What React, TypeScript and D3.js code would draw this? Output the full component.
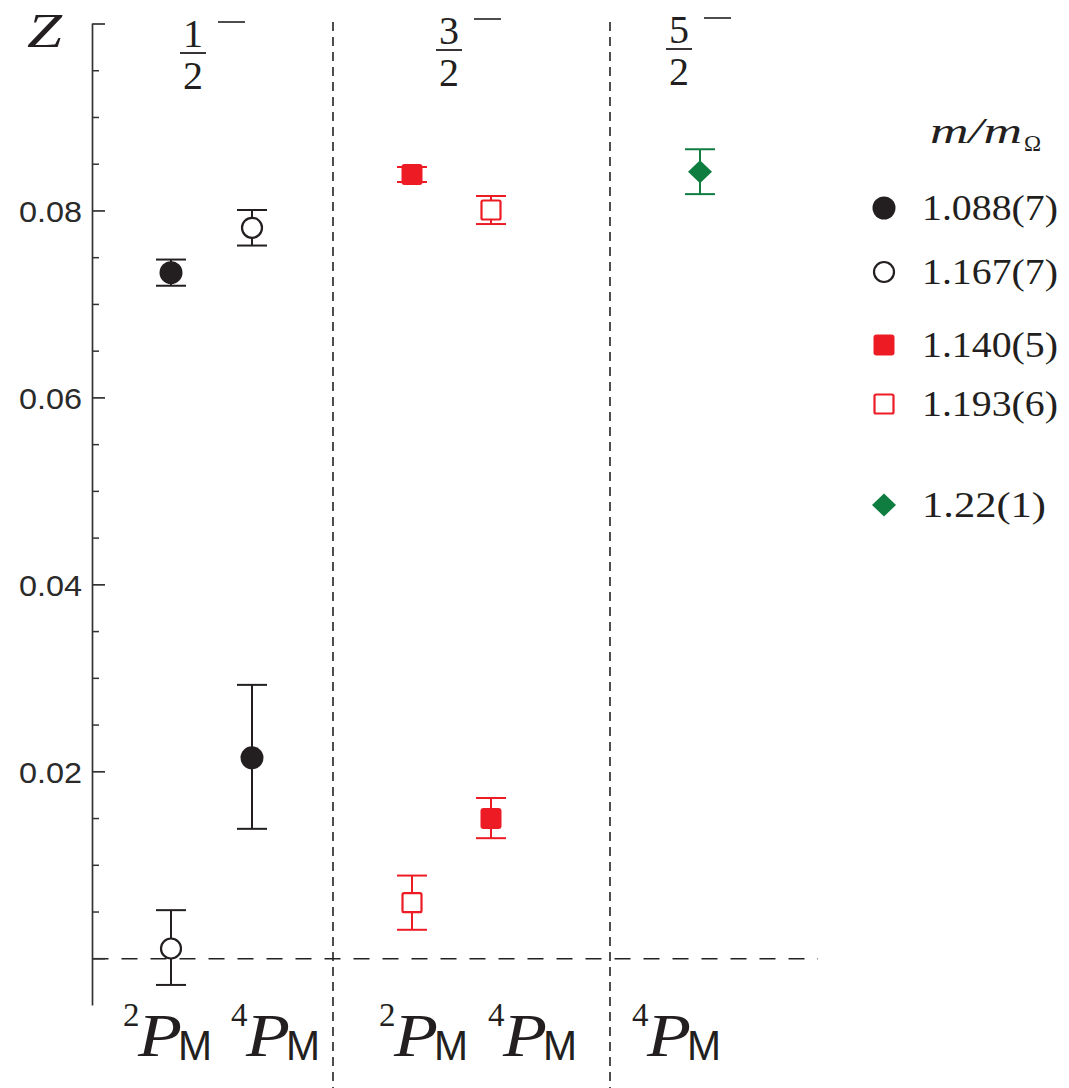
import React from 'react';
import * as d3 from 'd3';

// ---------- data ----------
const categories = ['1/2 2P', '1/2 4P', '3/2 2P', '3/2 4P', '5/2 4P'];
const categorySup = ['2', '4', '2', '4', '4'];
const groupNumerators = ['1', '3', '5'];
const groupDenominator = '2';

const seriesNames = ['1.088(7)', '1.167(7)', '1.140(5)', '1.193(6)', '1.22(1)'];
const seriesShapes = ['circle', 'circle', 'square', 'square', 'diamond'];
const seriesFilled = [true, false, true, false, true];
const seriesCats = [
  ['1/2 2P', '1/2 4P'],
  ['1/2 2P', '1/2 4P'],
  ['3/2 2P', '3/2 4P'],
  ['3/2 2P', '3/2 4P'],
  ['5/2 4P'],
];
const seriesZ = [
  [0.0734, 0.0215],
  [0.0011, 0.0782],
  [0.0839, 0.0150],
  [0.0060, 0.0801],
  [0.0842],
];
const seriesErrUp = [
  [0.0014, 0.0078],
  [0.0041, 0.0019],
  [0.0008, 0.0022],
  [0.0029, 0.0015],
  [0.0024],
];
const seriesErrDown = [
  [0.0014, 0.0076],
  [0.0039, 0.0019],
  [0.0008, 0.0021],
  [0.0029, 0.0015],
  [0.0024],
];

const yMajorTicks = [0, 0.02, 0.04, 0.06, 0.08, 0.1];
const yTickLabels = ['', '0.02', '0.04', '0.06', '0.08', ''];

// ---------- layout / style ----------
const W = 1069;
const H = 1088;
const AXIS_X = 92.5;
const colors = ['#231f20', '#231f20', '#ed1c24', '#ed1c24', '#0f7d3f'];
const SERIF = '"Liberation Serif", "DejaVu Serif", serif';
const SANS = '"Liberation Sans", Arial, sans-serif';

const x = d3.scaleOrdinal<string, number>().domain(categories).range([171, 252, 412, 491, 700]);
const y = d3.scaleLinear().domain([-0.005, 0.1]).range([1005.5, 24]);
const separators = [333, 610];
const groupFracX = [193, 449, 679];
const groupFracDy = [0, -3, -4];
const labelStartX = [123, 231, 379, 488, 632];
const legendRowY = [208, 272, 345, 404, 505];
const legendMarkerX = 884;
const legendTextX = 922;

function Marker({ shape, filled, color, cx, cy }: any) {
  if (shape === 'circle') {
    return filled ? (
      <circle cx={cx} cy={cy} r={11.5} fill={color} />
    ) : (
      <circle cx={cx} cy={cy} r={10} fill="#fff" stroke={color} strokeWidth={2.2} />
    );
  }
  if (shape === 'square') {
    return filled ? (
      <rect x={cx - 10.5} y={cy - 10.5} width={21} height={21} rx={3} fill={color} />
    ) : (
      <rect x={cx - 9.5} y={cy - 9.5} width={19} height={19} rx={1.5} fill="#fff" stroke={color} strokeWidth={2.2} />
    );
  }
  const p = d3.path();
  p.moveTo(cx, cy - 11.5);
  p.lineTo(cx + 12, cy);
  p.lineTo(cx, cy + 11.5);
  p.lineTo(cx - 12, cy);
  p.closePath();
  return <path d={p.toString()} fill={color} />;
}

export default function App() {
  const minorTicks = d3
    .range(0, 0.1001, 0.005)
    .filter((v) => !yMajorTicks.some((m) => Math.abs(m - v) < 1e-6));

  return (
    <svg width={W} height={H} viewBox={`0 0 ${W} ${H}`} style={{ display: 'block', position: 'absolute', left: 0, top: 0, background: '#fff' }}>
      <rect x={0} y={0} width={W} height={H} fill="#fff" />

      {/* vertical separators */}
      {separators.map((sx, i) => (
        <line key={'sep' + i} x1={sx} x2={sx} y1={22} y2={H} stroke="#222" strokeWidth={1.6} strokeDasharray="9 6" />
      ))}

      {/* zero line */}
      <line x1={AXIS_X} x2={818} y1={y(0)} y2={y(0)} stroke="#222" strokeWidth={1.7} strokeDasharray="16 13" />

      {/* y axis */}
      <line x1={AXIS_X} x2={AXIS_X} y1={y(0.1) - 0.5} y2={y(-0.005)} stroke="#333" strokeWidth={1.7} />
      {yMajorTicks.map((t, i) => (
        <g key={'maj' + i}>
          <line x1={AXIS_X} x2={AXIS_X + 12.5} y1={y(t)} y2={y(t)} stroke="#333" strokeWidth={1.7} />
          {yTickLabels[i] && (
            <text x={82} y={y(t) + 11} textAnchor="end" fontFamily={SANS} fontSize={30} fill="#2a2a2a" textLength={63} lengthAdjust="spacingAndGlyphs">
              {yTickLabels[i]}
            </text>
          )}
        </g>
      ))}
      {minorTicks.map((t, i) => (
        <line key={'min' + i} x1={AXIS_X} x2={AXIS_X + 6.5} y1={y(t)} y2={y(t)} stroke="#333" strokeWidth={1.5} />
      ))}

      {/* Z label */}
      <text x={27} y={47} fontFamily={SERIF} fontStyle="italic" fontSize={48} fill="#231f20" textLength={35} lengthAdjust="spacingAndGlyphs">
        Z
      </text>

      {/* group fractions */}
      {groupNumerators.map((n, i) => (
        <g key={'frac' + i} transform={`translate(0,${groupFracDy[i]})`}>
          <text x={groupFracX[i]} y={47} textAnchor="middle" fontFamily={SERIF} fontSize={40} fill="#231f20">
            {n}
          </text>
          <line x1={groupFracX[i] - 13} x2={groupFracX[i] + 13} y1={53} y2={53} stroke="#231f20" strokeWidth={1.8} />
          <text x={groupFracX[i]} y={89} textAnchor="middle" fontFamily={SERIF} fontSize={40} fill="#231f20">
            {groupDenominator}
          </text>
          <line x1={groupFracX[i] + 25} x2={groupFracX[i] + 52} y1={22} y2={22} stroke="#231f20" strokeWidth={1.6} />
        </g>
      ))}

      {/* error bars + markers */}
      {seriesNames.map((name, s) => (
        <g key={'s' + s}>
          {seriesCats[s].map((c, j) => {
            const cx = x(c);
            const yTop = y(seriesZ[s][j] + seriesErrUp[s][j]);
            const yBot = y(seriesZ[s][j] - seriesErrDown[s][j]);
            return (
              <g key={'e' + j} stroke={colors[s]} strokeWidth={2}>
                <line x1={cx} x2={cx} y1={yTop} y2={yBot} />
                <line x1={cx - 15} x2={cx + 15} y1={yTop} y2={yTop} />
                <line x1={cx - 15} x2={cx + 15} y1={yBot} y2={yBot} />
              </g>
            );
          })}
          {seriesCats[s].map((c, j) => (
            <Marker key={'m' + j} shape={seriesShapes[s]} filled={seriesFilled[s]} color={colors[s]} cx={x(c)} cy={y(seriesZ[s][j])} />
          ))}
        </g>
      ))}

      {/* category labels */}
      {categories.map((c, i) => (
        <g key={'cl' + i} fill="#231f20">
          <text x={labelStartX[i]} y={1026} fontFamily={SERIF} fontSize={33}>
            {categorySup[i]}
          </text>
          <text x={labelStartX[i] + 15} y={1056} fontFamily={SERIF} fontStyle="italic" fontSize={62} textLength={44} lengthAdjust="spacingAndGlyphs">
            P
          </text>
          <text x={labelStartX[i] + 55} y={1060} fontFamily={SANS} fontSize={43} textLength={34} lengthAdjust="spacingAndGlyphs">
            M
          </text>
        </g>
      ))}

      {/* legend */}
      <text x={930} y={143} fontFamily={SERIF} fontStyle="italic" fontSize={35} fill="#231f20" textLength={92} lengthAdjust="spacingAndGlyphs">
        m/m
      </text>
      <text x={1024} y={151} fontFamily={SERIF} fontSize={23} fill="#231f20">
        Ω
      </text>
      {seriesNames.map((name, s) => (
        <g key={'lg' + s}>
          <Marker shape={seriesShapes[s]} filled={seriesFilled[s]} color={colors[s]} cx={legendMarkerX} cy={legendRowY[s]} />
          <text
            x={legendTextX}
            y={legendRowY[s] + 12}
            fontFamily={SERIF}
            fontSize={36}
            fill="#231f20"
            textLength={name.length === 8 ? 136 : 124}
            lengthAdjust="spacingAndGlyphs"
          >
            {name}
          </text>
        </g>
      ))}
    </svg>
  );
}
